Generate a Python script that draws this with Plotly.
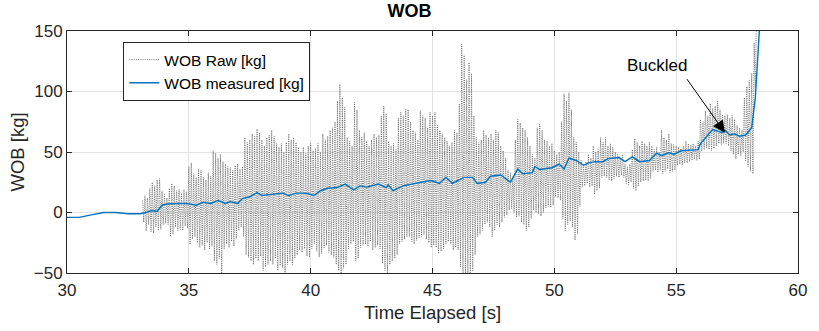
import numpy as np
import plotly.graph_objects as go

# ---- WOB raw signal: alternating peak / trough per 0.1 s sample, from t = 33.1 s
raw_start = 33.1
raw_step = 0.1
raw_peak = [
    10, 14, 12, 20, 25, 22, 27, 28, 18,                 # 33.1-33.9
    15, 12, 20, 24, 22, 18, 19, 16, 19, 17,             # 34
    38, 41, 32, 29, 36, 35, 29, 27, 33, 30,             # 35
    51, 49, 45, 48, 42, 40, 38, 37, 35, 39,             # 36
    40, 36, 38, 62, 58, 60, 65, 63, 69, 66,             # 37
    60, 55, 62, 64, 68, 63, 57, 54, 57, 50,             # 38
    58, 65, 60, 62, 58, 54, 50, 54, 49, 55,             # 39
    57, 51, 53, 57, 50, 65, 60, 63, 68, 70,             # 40
    75, 92, 106, 95, 87, 62, 59, 55, 91, 85,            # 41
    68, 62, 66, 59, 55, 60, 65, 62, 64, 80,             # 42
    88, 82, 59, 55, 57, 52, 78, 83, 80, 85,             # 43
    85, 75, 68, 66, 60, 84, 80, 78, 70, 83,             # 44
    80, 83, 72, 68, 65, 62, 59, 55, 58, 68,             # 45
    66, 90, 139, 130, 110, 124, 115, 80, 62, 58,        # 46
    60, 68, 64, 62, 65, 60, 68, 66, 55, 51,             # 47
    45, 35, 33, 30, 60, 77, 74, 70, 68, 62,             # 48
    55, 48, 45, 70, 73, 68, 60, 59, 55, 57,             # 49
    51, 48, 50, 75, 98, 92, 99, 85, 62, 58,             # 50
    50, 43, 40, 42, 48, 45, 55, 50, 52, 62,             # 51
    58, 62, 55, 57, 54, 50, 48, 46, 48, 40,             # 52
    38, 40, 52, 61, 58, 55, 59, 57, 55, 58,             # 53
    55, 52, 54, 50, 68, 62, 60, 65, 57, 56,             # 54
    55, 54, 53, 55, 59, 57, 56, 57, 55, 59,             # 55
    77, 75, 84, 80, 90, 86, 88, 92, 85, 81,             # 56
    80, 81, 78, 80, 77, 72, 70, 68, 95, 104,            # 57
    109, 115, 140, 175,                                 # 58.0-58.3
]
raw_trough = [
    -8, -15, -10, -16, -17, -12, -15, -14, -10,
    -9, -10, -20, -18, -12, -15, -14, -15, -11, -13,
    -26, -22, -20, -25, -29, -27, -31, -25, -30, -28,
    -40, -43, -38, -55, -30, -26, -29, -24, -28, -22,
    -15, -12, -20, -35, -37, -40, -43, -38, -40, -36,
    -48, -45, -43, -40, -43, -38, -48, -44, -46, -55,
    -43, -40, -43, -38, -35, -31, -33, -30, -36, -37,
    -30, -26, -32, -37, -34, -29, -27, -33, -35, -37,
    -43, -48, -55, -46, -43, -30, -26, -24, -40, -38,
    -29, -27, -26, -28, -24, -31, -29, -27, -30, -42,
    -48, -55, -43, -40, -38, -35, -26, -24, -22, -20,
    -20, -24, -26, -23, -21, -20, -18, -22, -25, -29,
    -27, -29, -34, -32, -30, -26, -24, -26, -31, -29,
    -31, -45, -55, -52, -50, -55, -48, -35, -20, -18,
    -15, -10, -8, -12, -20, -15, -10, -12, -8, -4,
    -2, 2, 3, 0, -4, -3, -8, -10, -15, -12,
    -5, 2, 0, -1, -3, 0, 4, 5, 4, 6,
    13, 12, 10, -5, -15, -10, -7, -12, -23, -18,
    5, 21, 22, 24, 21, 22, 15, 18, 20, 29,
    30, 29, 27, 26, 28, 30, 29, 31, 29, 24,
    23, 25, 20, 18, 22, 25, 26, 27, 26, 28,
    34, 35, 33, 35, 32, 34, 36, 33, 34, 35,
    39, 40, 39, 41, 41, 42, 43, 44, 43, 44,
    51, 52, 53, 52, 51, 53, 55, 57, 56, 57,
    57, 55, 51, 48, 44, 48, 47, 50, 43, 38,
    34, 32, 100, 170,
]

# ---- WOB measured (filtered) signal
meas_t = [30.0, 30.5, 31.0, 31.5, 32.0, 32.5, 33.0, 33.25, 33.45, 33.7, 33.9,
          34.1, 34.5, 34.9, 35.3, 35.6, 35.9, 36.2, 36.5, 36.7, 37.0, 37.2,
          37.5, 37.8, 38.0, 38.4, 38.85, 39.1, 39.4, 39.7, 39.87, 40.14, 40.4,
          40.68, 41.08, 41.42, 41.76, 42.03, 42.3, 42.78, 43.11, 43.18, 43.38,
          43.79, 44.2, 44.53, 44.94, 45.28, 45.55, 45.82, 46.29, 46.63, 46.84,
          47.17, 47.38, 47.8, 48.2, 48.5, 48.7, 49.1, 49.2, 49.4, 49.9, 50.2,
          50.4, 50.6, 50.9, 51.2, 51.4, 51.7, 52.0, 52.2, 52.65, 52.9, 53.2,
          53.5, 53.9, 54.2, 54.4, 54.7, 54.9, 55.2, 55.9, 56.0, 56.5, 56.7,
          56.9, 57.0, 57.2, 57.4, 57.6, 57.85, 58.1, 58.25, 58.4, 58.5]
meas_v = [-4, -4, -2, 0, 0, -1, -1, 0, 1.5, 1, 6,
          7, 7.5, 7.5, 6, 8.5, 7.5, 10, 7.5, 9, 7.5, 11.5,
          13, 16.5, 14, 15, 16, 14, 16, 16, 15.7, 14, 18,
          20, 20.6, 23.5, 18.7, 22, 21, 23.5, 20.6, 23, 18,
          22, 24, 25, 26.4, 24, 29, 24, 29, 29, 24,
          25, 30, 31, 25, 36, 32, 33, 38, 35.5, 37, 40,
          36, 45, 43, 39, 41, 42, 42, 44.5, 45.5, 42, 46,
          42, 43, 49, 47, 49.5, 48, 51, 52, 57, 68.5, 67,
          66, 68, 64, 65, 63, 64, 70, 95, 150, 180]

# Axis ticks
x_ticks = [30, 35, 40, 45, 50, 55, 60]
y_ticks = [-50, 0, 50, 100, 150]

# Interleave peaks and troughs into one oscillating trace
raw_x, raw_y = [], []
for i, (p, q) in enumerate(zip(raw_peak, raw_trough)):
    t = raw_start + i * raw_step
    raw_x += [t, t + raw_step / 2]
    raw_y += [p, q]

FONT = "Liberation Sans, Arial, Helvetica, sans-serif"
AX = "#262626"

fig = go.Figure()
fig.add_trace(go.Scatter(
    x=raw_x, y=raw_y, mode="lines", name="WOB Raw [kg]",
    line=dict(color="#666666", width=0.9, dash="1px,1.2px"),
))
fig.add_trace(go.Scatter(
    x=meas_t, y=meas_v, mode="lines", name="WOB measured [kg]",
    line=dict(color="#0072BD", width=1.4),
))

axis_common = dict(
    showline=True, linecolor=AX, linewidth=1, mirror="ticks",
    ticks="inside", ticklen=5, tickcolor=AX,
    showgrid=True, gridcolor="#e3e3e3", gridwidth=1,
    zeroline=False, tickfont=dict(family=FONT, size=17, color=AX),
)

fig.update_layout(
    width=819, height=331,
    margin=dict(l=67, r=13, t=31, b=58),
    paper_bgcolor="white", plot_bgcolor="white",
    font=dict(family=FONT, color=AX),
    title=dict(text="<b>WOB</b>", x=0.5, xanchor="center", y=0.967,
               yanchor="middle", font=dict(family=FONT, size=18, color="#000000")),
    xaxis=dict(range=[30, 60], tickvals=x_ticks, ticklabelstandoff=2,
               title=dict(text="Time Elapsed [s]", standoff=6,
                          font=dict(family=FONT, size=18.5, color=AX)),
               **axis_common),
    yaxis=dict(range=[-50, 150], tickvals=y_ticks,
               title=dict(text="WOB [kg]", standoff=4,
                          font=dict(family=FONT, size=18.5, color=AX)),
               **axis_common),
    legend=dict(x=0.0771, y=0.9545, xanchor="left", yanchor="top",
                bgcolor="white", bordercolor=AX, borderwidth=1,
                font=dict(family=FONT, size=15.5, color="#000000"),
                tracegroupgap=0, itemwidth=30),
    showlegend=True,
)

# "Buckled" label with its arrow
fig.add_annotation(x=54.2, y=121.5, text="Buckled", showarrow=False,
                   font=dict(family=FONT, size=17, color="#000000"))
fig.add_annotation(x=57.0, y=66, text="", showarrow=True,
                   axref="pixel", ayref="pixel", ax=-39, ay=-55,
                   arrowhead=2, arrowsize=2.4, arrowwidth=1, arrowcolor="#000000")

fig.write_html("out.html")
